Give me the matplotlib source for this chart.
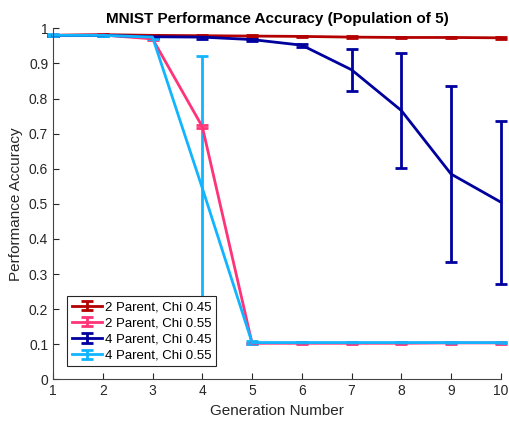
import matplotlib
matplotlib.use("Agg")
import matplotlib.pyplot as plt
from matplotlib.legend_handler import HandlerErrorbar
from matplotlib.container import ErrorbarContainer
import numpy as np

plt.rcParams['font.family'] = ['Liberation Sans', 'DejaVu Sans']

gens = np.arange(1, 11)

# mean accuracy per generation
p2_chi45 = [0.980, 0.982, 0.980, 0.979, 0.978, 0.977, 0.975, 0.974, 0.974, 0.973]
p2_chi55 = [0.980, 0.981, 0.970, 0.720, 0.103, 0.103, 0.103, 0.103, 0.104, 0.104]
p4_chi45 = [0.980, 0.980, 0.976, 0.975, 0.968, 0.952, 0.882, 0.766, 0.585, 0.505]
p4_chi55 = [0.980, 0.980, 0.975, 0.545, 0.105, 0.105, 0.105, 0.105, 0.105, 0.105]

# standard deviation (error bar half-length)
e2_chi45 = [0.002, 0.001, 0.001, 0.002, 0.002, 0.002, 0.002, 0.002, 0.002, 0.002]
e2_chi55 = [0.002, 0.001, 0.002, 0.004, 0.002, 0.003, 0.003, 0.003, 0.003, 0.003]
e4_chi45 = [0.002, 0.001, 0.003, 0.004, 0.003, 0.004, 0.060, 0.165, 0.251, 0.232]
e4_chi55 = [0.003, 0.002, 0.004, 0.375, 0.004, 0.002, 0.002, 0.002, 0.002, 0.002]

labels = ['2 Parent, Chi 0.45', '2 Parent, Chi 0.55', '4 Parent, Chi 0.45', '4 Parent, Chi 0.55']
colors = ['#b30000', '#ff3377', '#00009f', '#11b5ff']

fig = plt.figure(figsize=(5.10, 4.23), dpi=100)
ax = fig.add_axes([0.104, 0.103, 0.878, 0.83])

series = [p2_chi45, p2_chi55, p4_chi45, p4_chi55]
errs = [e2_chi45, e2_chi55, e4_chi45, e4_chi55]
for y, e, c, lab in zip(series, errs, colors, labels):
    ax.errorbar(gens, y, yerr=e, color=c, lw=2, elinewidth=2, capsize=4.5,
                capthick=2, label=lab, clip_on=False)

ax.set_xlim(1, 10)
ax.set_ylim(0, 1)
ax.set_xticks(gens)
ax.set_yticks(np.round(np.arange(0, 1.01, 0.1), 1))
ax.set_yticklabels(['0', '0.1', '0.2', '0.3', '0.4', '0.5', '0.6', '0.7', '0.8', '0.9', '1'])
for s in ['top', 'right']:
    ax.spines[s].set_visible(False)
for s in ['left', 'bottom']:
    ax.spines[s].set_color('#444444')
ax.tick_params(direction='in', length=4, colors='#262626', labelsize=10)

ax.set_xlabel('Generation Number', fontsize=11, color='#262626')
ax.set_ylabel('Performance Accuracy', fontsize=11, color='#262626')
ax.set_title('MNIST Performance Accuracy (Population of 5)', fontsize=11,
             fontweight='bold', pad=4)

leg = ax.legend(loc='lower left', bbox_to_anchor=(0.031, 0.037), fontsize=9.5,
                frameon=True, fancybox=False, edgecolor='#262626', framealpha=1,
                borderpad=0.35, labelspacing=0.3, handlelength=2.3,
                handletextpad=0.2, borderaxespad=0,
                handler_map={ErrorbarContainer: HandlerErrorbar(yerr_size=0.35)})
leg.get_frame().set_linewidth(0.8)
leg.set_zorder(5)

fig.savefig('out.png', dpi=100)
